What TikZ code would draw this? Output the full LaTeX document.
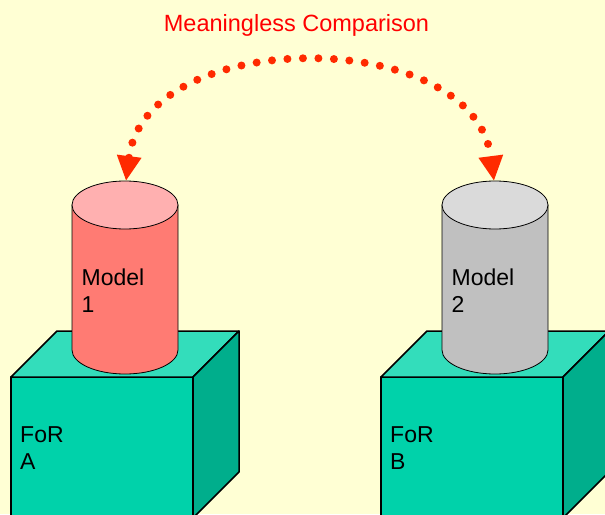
\documentclass[tikz,border=0pt]{standalone}
\usepackage{fontspec}
\setmainfont{Liberation Sans}
\usetikzlibrary{arrows.meta}
\definecolor{sfondo}{HTML}{FFFFD4}
\definecolor{frontecubo}{HTML}{00D2AA}
\definecolor{sopracubo}{HTML}{33DDBB}
\definecolor{latocubo}{HTML}{00AE8C}
\definecolor{rosso}{HTML}{FF7B73}
\definecolor{rossochiaro}{HTML}{FFB0B0}
\definecolor{grigio}{HTML}{C0C0C0}
\definecolor{grigiochiaro}{HTML}{DADADA}
\definecolor{freccia}{HTML}{FF2A00}
\tikzset{
  cubo/.style={draw=black, line width=1.5pt, line join=round},
  cilindro/.style={draw=black, line width=0.8pt},
  testo/.style={inner sep=0pt, anchor=north west, align=left, font=\fontsize{23}{27}\selectfont},
  punta/.tip={Triangle[length=25pt, width=23pt]},
}
\begin{document}
\begin{tikzpicture}[x=1pt, y=-1pt]
            % Sfondo
            \fill[sfondo] (0,0) rectangle (605,514);
            \useasboundingbox (0,0) rectangle (605,514);
            \begin{scope}
            \clip (0,0) rectangle (605,514);
            % Cubi
            \foreach \dx in {0,370} {
              \fill[frontecubo, cubo] (11+\dx,377) rectangle (193+\dx,530);
              \fill[sopracubo, cubo] (11+\dx,377) -- (57+\dx,331) -- (239+\dx,331) -- (193+\dx,377) -- cycle;
              \fill[latocubo, cubo] (193+\dx,377) -- (239+\dx,331) -- (239+\dx,472) -- (193+\dx,518) -- cycle;
            }
            % Cilindri
            \filldraw[fill=rosso, cilindro] (72,205) -- (72,350) arc (180:0:53 and 24) -- (178,205) -- cycle;
            \filldraw[fill=rossochiaro, cilindro] (125,205) ellipse (53 and 24);
            \filldraw[fill=grigio, cilindro] (442,205) -- (442,350) arc (180:0:53 and 24) -- (548,205) -- cycle;
            \filldraw[fill=grigiochiaro, cilindro] (495,205) ellipse (53 and 24);
            \end{scope}
            % Testi
            \node[testo] (modello1) at (81.5,269) {Model\\1};
            \node[testo] (modello2) at (451.5,269) {Model\\2};
            \node[testo] (forA) at (20,426.5) {FoR\\A};
            \node[testo] (forB) at (390,426.5) {FoR\\B};
            \node[red, anchor=base, inner sep=0pt, font=\fontsize{23.5}{28}\selectfont] (titolo) at (296.5,31) {Meaningless Comparison};
            % Freccia
            \coordinate (cima1) at (126,181);
            \coordinate (cima2) at (494,181);
            \draw[freccia, line width=8pt, line cap=round, dash pattern=on 0pt off 15.5pt, punta-punta]
                  (cima1) .. controls +(20,-156) and +(-20,-156) .. (cima2);
        \end{tikzpicture}
\end{document}
